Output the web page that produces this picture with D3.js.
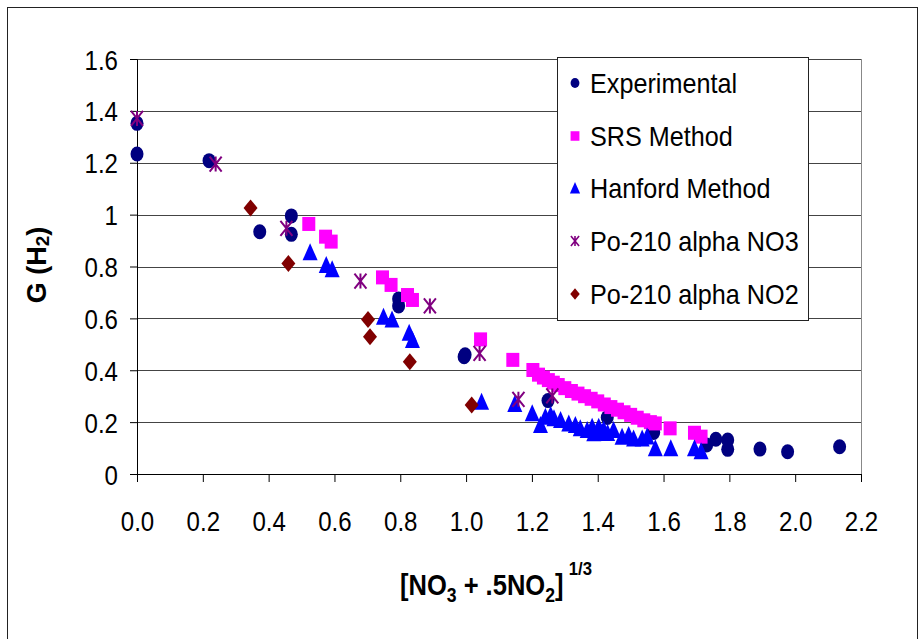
<!DOCTYPE html>
<html>
<head>
<meta charset="utf-8">
<script src="https://cdn.jsdelivr.net/npm/d3@7"></script>
<style>
body{margin:0;background:#fff;}
svg{display:block;font-family:"Liberation Sans",Arial,sans-serif;}
</style>
</head>
<body>
<svg id="chart" width="923" height="639"></svg>
<script>
// ---------- data ----------
const experimental = [
  [0.00,1.352],[0.00,1.234],[0.219,1.208],[0.373,0.934],[0.469,0.995],[0.469,0.924],
  [0.795,0.675],[0.795,0.648],[0.994,0.452],[0.997,0.460],[1.249,0.283],[1.429,0.218],
  [1.570,0.160],[1.731,0.112],[1.759,0.134],[1.795,0.131],[1.795,0.095],[1.893,0.096],
  [1.977,0.086],[2.135,0.105]
];
const srsMethod = [
  [0.522,0.964],[0.573,0.915],[0.590,0.896],[0.746,0.758],[0.772,0.729],[0.822,0.690],
  [0.837,0.671],[1.044,0.519],[1.142,0.440],[1.203,0.401],[1.22,0.383],[1.235,0.372],
  [1.25,0.362],[1.265,0.352],[1.28,0.343],[1.30,0.331],[1.32,0.320],[1.34,0.310],
  [1.36,0.300],[1.38,0.290],[1.40,0.280],[1.42,0.268],[1.44,0.258],[1.46,0.248],
  [1.48,0.238],[1.50,0.228],[1.52,0.217],[1.54,0.207],[1.56,0.200],[1.575,0.195],
  [1.620,0.176],[1.694,0.159],[1.714,0.144]
];
const hanfordMethod = [
  [0.526,0.855],[0.575,0.806],[0.593,0.789],[0.749,0.606],[0.775,0.596],[0.827,0.545],
  [0.837,0.517],[1.047,0.279],[1.148,0.270],[1.201,0.234],[1.226,0.189],[1.241,0.221],
  [1.257,0.227],[1.267,0.215],[1.287,0.208],[1.312,0.195],[1.332,0.189],[1.347,0.176],
  [1.368,0.170],[1.383,0.182],[1.388,0.157],[1.403,0.182],[1.41,0.160],[1.418,0.172],
  [1.43,0.158],[1.448,0.170],[1.474,0.144],[1.494,0.150],[1.509,0.137],[1.535,0.137],
  [1.55,0.145],[1.575,0.099],[1.622,0.099],[1.694,0.099],[1.714,0.088]
];
const po210NO3 = [
  [0.00,1.371],[0.239,1.195],[0.454,0.947],[0.679,0.744],[0.890,0.648],[1.041,0.465],
  [1.159,0.288],[1.262,0.301]
];
const po210NO2 = [
  [0.345,1.026],[0.460,0.812],[0.702,0.596],[0.708,0.529],[0.829,0.433],[1.017,0.266]
];
const seriesNames = ["Experimental","SRS Method","Hanford Method","Po-210 alpha NO3","Po-210 alpha NO2"];
const xTicks = [0,0.2,0.4,0.6,0.8,1.0,1.2,1.4,1.6,1.8,2.0,2.2];
const yTicks = [0,0.2,0.4,0.6,0.8,1.0,1.2,1.4,1.6];

// ---------- setup ----------
const svg = d3.select("#chart");
const L = 137, R = 861, T = 59, B = 474;
const x = d3.scaleLinear().domain([0,2.2]).range([L,R]);
const y = d3.scaleLinear().domain([0,1.6]).range([B,T]);
const SX = 0.88;

// outer border
svg.append("rect").attr("x",7.5).attr("y",7.5).attr("width",910).attr("height",650)
  .attr("fill","none").attr("stroke","#222").attr("stroke-width",1);

// gridlines
svg.append("g").selectAll("line").data(yTicks.filter(d=>d>0)).join("line")
  .attr("x1",L).attr("x2",R).attr("y1",d=>Math.round(y(d))+0.5).attr("y2",d=>Math.round(y(d))+0.5)
  .attr("stroke","#444").attr("stroke-width",1);
// right border of plot
svg.append("line").attr("x1",R+0.5).attr("x2",R+0.5).attr("y1",T).attr("y2",B)
  .attr("stroke","#888").attr("stroke-width",1);

// axes
const yAxis = svg.append("g").attr("transform",`translate(${L},0)`)
  .call(d3.axisLeft(y).tickValues(yTicks).tickSize(7).tickFormat(d=>String(+d.toFixed(1))));
const xAxis = svg.append("g").attr("transform",`translate(0,${B})`)
  .call(d3.axisBottom(x).tickValues(xTicks).tickSize(8).tickFormat(d3.format(".1f")));
[yAxis,xAxis].forEach(g=>{
  g.select(".domain").attr("stroke","#000");
  g.selectAll(".tick line").attr("stroke","#000");
  g.selectAll("text").attr("fill","#000").attr("font-size",28)
    .attr("font-family","'Liberation Sans',Arial,sans-serif");
});
yAxis.selectAll("text").attr("x",0).attr("dy",null).attr("y",10).attr("text-anchor","end")
  .attr("transform",`translate(-19,0) scale(0.86,1)`);
xAxis.selectAll("text").attr("y",0).attr("dy",null).attr("text-anchor","middle")
  .attr("transform",`translate(0,57) scale(0.86,1)`);

// marker shapes
function drawMarker(g, type, cx, cy, s){
  if(type===0){
    g.append("ellipse").attr("cx",cx).attr("cy",cy).attr("rx",6.5*s).attr("ry",7.5*s).attr("fill","#000080");
  } else if(type===1){
    g.append("rect").attr("x",cx-6.5*s).attr("y",cy-7*s).attr("width",13*s).attr("height",14*s).attr("fill","#FF00FF");
  } else if(type===2){
    g.append("path").attr("d",`M${cx},${cy-9*s}L${cx+7.5*s},${cy+8*s}L${cx-7.5*s},${cy+8*s}Z`).attr("fill","#0000FF");
  } else if(type===3){
    const r=7.5*s;
    g.append("path").attr("d",`M${cx-r*0.8},${cy-r}L${cx+r*0.8},${cy+r}M${cx+r*0.8},${cy-r}L${cx-r*0.8},${cy+r}M${cx},${cy-r}L${cx},${cy+r}`)
      .attr("stroke","#800080").attr("stroke-width",2*Math.max(s,0.8)).attr("fill","none");
  } else {
    g.append("path").attr("d",`M${cx},${cy-8.5*s}L${cx+7*s},${cy}L${cx},${cy+8.5*s}L${cx-7*s},${cy}Z`).attr("fill","#800000");
  }
}

const allSeries = [experimental,srsMethod,hanfordMethod,po210NO3,po210NO2];
const plot = svg.append("g");
allSeries.forEach((s,i)=>{
  const g = plot.append("g");
  s.forEach(d=>drawMarker(g,i,x(d[0]),y(d[1]),1));
});

// legend
const lg = svg.append("g");
lg.append("rect").attr("x",557.5).attr("y",57.5).attr("width",251).attr("height",263)
  .attr("fill","#fff").attr("stroke","#222").attr("stroke-width",1);
const legY = [83,136,188,241,294];
seriesNames.forEach((n,i)=>{
  drawMarker(lg,i,575,legY[i],0.68);
  lg.append("text").attr("transform",`translate(590,${legY[i]+10}) scale(0.9,1)`)
    .attr("font-size",28).attr("fill","#000").text(n);
});

// y title
const yt = svg.append("text").attr("transform","translate(46,265) rotate(-90)")
  .attr("text-anchor","middle").attr("font-size",27).attr("font-weight","bold").attr("fill","#000");
yt.append("tspan").text("G (H");
yt.append("tspan").attr("font-size",19).attr("dy",3).text("2");
yt.append("tspan").attr("dy",-3).text(")");

// x title
const xt = svg.append("text").attr("transform",`translate(400,595) scale(${SX},1)`)
  .attr("font-size",29).attr("font-weight","bold").attr("fill","#000");
xt.append("tspan").text("[NO");
xt.append("tspan").attr("font-size",20).attr("dy",7).text("3");
xt.append("tspan").attr("dy",-7).text(" + .5NO");
xt.append("tspan").attr("font-size",20).attr("dy",7).text("2");
xt.append("tspan").attr("dy",-7).text("]");
xt.append("tspan").attr("font-size",19).attr("dy",-20).attr("dx",6).text("1/3");
</script>
</body>
</html>
